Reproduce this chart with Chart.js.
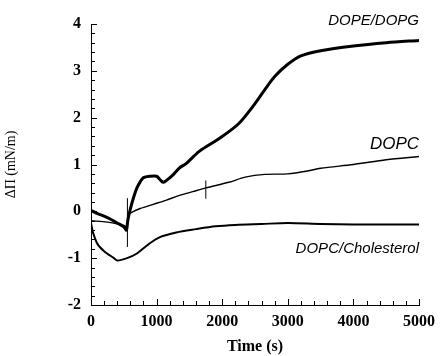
<!DOCTYPE html>
<html>
<head>
<meta charset="utf-8">
<script src="https://cdn.jsdelivr.net/npm/chart.js@4/dist/chart.umd.min.js"></script>
<style>
  body { margin: 0; background: #fff; }
  canvas { display: block; }
</style>
</head>
<body>
<canvas id="chart" width="442" height="356"></canvas>
<script>
// surface pressure change vs time
const timeDopeDopg = [0, 100, 200, 300, 400, 500, 540, 560, 600, 650, 700, 750, 800, 900, 1000, 1050, 1100, 1150, 1250, 1350, 1450, 1650, 1950, 2250, 2500, 2650, 2800, 3000, 3200, 3500, 4000, 4500, 5000];
const valDopeDopg  = [0.02, -0.05, -0.1, -0.17, -0.25, -0.33, -0.4, -0.2, 0.05, 0.3, 0.5, 0.63, 0.72, 0.75, 0.75, 0.68, 0.62, 0.66, 0.78, 0.93, 1.02, 1.28, 1.55, 1.87, 2.3, 2.6, 2.88, 3.14, 3.32, 3.43, 3.53, 3.6, 3.65];

const timeDopc = [0, 250, 500, 550, 570, 650, 750, 950, 1150, 1350, 1550, 1750, 2100, 2350, 2650, 3000, 3300, 3500, 4000, 4500, 5000];
const valDopc  = [-0.2, -0.23, -0.3, -0.33, -0.08, 0.0, 0.06, 0.15, 0.24, 0.34, 0.42, 0.5, 0.62, 0.73, 0.79, 0.8, 0.86, 0.92, 1.0, 1.1, 1.17];

const timeChol = [0, 30, 100, 200, 350, 400, 550, 700, 880, 1050, 1300, 1600, 1900, 2200, 2600, 3000, 3500, 4000, 4500, 5000];
const valChol  = [-0.25, -0.45, -0.7, -0.85, -1.0, -1.05, -1.0, -0.9, -0.7, -0.55, -0.45, -0.38, -0.32, -0.29, -0.27, -0.25, -0.27, -0.28, -0.28, -0.28];

// injection markers (short vertical strokes)
const markTimes = [555, 1750];
const markLow   = [-0.76, 0.27];
const markHigh  = [0.28, 0.66];

const seriesNames = ['DOPE/DOPG', 'DOPC', 'DOPC/Cholesterol'];
const labelY = [4.06, 1.43, -0.8];

const xTicks = [0, 1000, 2000, 3000, 4000, 5000];
const yTicks = [-2, -1, 0, 1, 2, 3, 4];

function pts(xs, ys) { return xs.map((x, i) => ({ x: x, y: ys[i] })); }

const datasets = [
  { data: pts(timeDopeDopg, valDopeDopg), borderColor: '#000', borderWidth: 3 },
  { data: pts(timeDopc, valDopc), borderColor: '#000', borderWidth: 1.4 },
  { data: pts(timeChol, valChol), borderColor: '#000', borderWidth: 2 }
];
markTimes.forEach((t, i) => {
  datasets.push({ data: [{ x: t, y: markLow[i] }, { x: t, y: markHigh[i] }], borderColor: '#000', borderWidth: 1, tension: 0 });
});

const labelSizes = [15, 17, 15];

const innerTicks = {
  id: 'innerTicks',
  afterDraw(chart) {
    const ctx = chart.ctx;
    const xs = chart.scales.x, ys = chart.scales.y;
    const area = chart.chartArea;
    ctx.save();
    ctx.strokeStyle = '#000';
    ctx.lineWidth = 1;
    ctx.beginPath();
    for (let v = 0; v <= 5000; v += 200) {
      const px = Math.round(xs.getPixelForValue(v)) + 0.5;
      const len = v % 1000 === 0 ? 6 : 4;
      ctx.moveTo(px, area.bottom);
      ctx.lineTo(px, area.bottom - len);
    }
    for (let k = -10; k <= 20; k++) {
      const py = Math.round(ys.getPixelForValue(k / 5)) + 0.5;
      const len = k % 5 === 0 ? 6 : 4;
      ctx.moveTo(area.left, py);
      ctx.lineTo(area.left + len, py);
    }
    ctx.stroke();

    ctx.fillStyle = '#000';
    ctx.textAlign = 'right';
    ctx.textBaseline = 'middle';
    seriesNames.forEach((name, i) => {
      ctx.font = 'italic ' + labelSizes[i] + 'px "Liberation Sans"';
      ctx.fillText(name, xs.getPixelForValue(5000), ys.getPixelForValue(labelY[i]));
    });
    ctx.restore();
  }
};

const tickFont = { family: '"Liberation Serif"', size: 16, weight: 'bold' };

new Chart(document.getElementById('chart'), {
  type: 'line',
  data: { datasets: datasets },
  plugins: [innerTicks],
  options: {
    responsive: false,
    animation: false,
    devicePixelRatio: 1,
    layout: { padding: { left: 0, right: 21, top: 24, bottom: 0 } },
    plugins: { legend: { display: false }, tooltip: { enabled: false } },
    elements: { point: { radius: 0 }, line: { tension: 0.3, fill: false } },
    scales: {
      x: {
        type: 'linear', min: 0, max: 5000,
        afterBuildTicks: s => { s.ticks = xTicks.map(v => ({ value: v })); },
        afterFit: s => { s.height = 51; },
        grid: { display: false, drawTicks: false },
        border: { display: true, color: '#000', width: 1 },
        ticks: { color: '#000', padding: 7, maxRotation: 0, autoSkip: false, font: tickFont,
                 callback: v => String(v) },
        title: { display: true, text: 'Time (s)', color: '#000', padding: { top: 0, bottom: 0 }, font: tickFont }
      },
      y: {
        min: -2, max: 4,
        afterBuildTicks: s => { s.ticks = yTicks.map(v => ({ value: v })); },
        afterFit: s => { s.width = 91; },
        grid: { display: false, drawTicks: false },
        border: { display: true, color: '#000', width: 1 },
        ticks: { color: '#000', padding: 10, autoSkip: false, font: tickFont,
                 callback: v => String(v) },
        title: { display: true, text: 'ΔΠ (mN/m)', color: '#000', padding: { top: 3, bottom: 0 },
                 font: { family: '"Liberation Serif"', size: 14 } }
      }
    }
  }
});
</script>
</body>
</html>
